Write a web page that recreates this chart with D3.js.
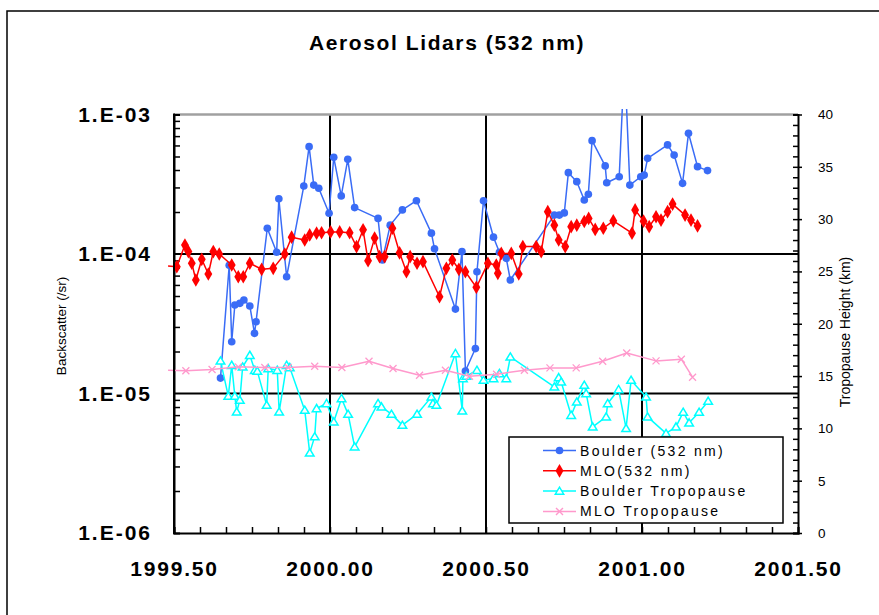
<!DOCTYPE html>
<html>
<head>
<meta charset="utf-8">
<script src="https://cdn.jsdelivr.net/npm/d3@7/dist/d3.min.js"></script>
<style>
  html, body { margin: 0; padding: 0; background: #fff; }
  svg { display: block; }
  text { font-family: "Liberation Sans", Arial, sans-serif; fill: #000; }
</style>
</head>
<body>
<svg id="chart" width="879" height="615"></svg>
<script>
// ---- Data ----
const xTickValues = [1999.5, 2000.0, 2000.5, 2001.0, 2001.5];
const xTickLabels = ["1999.50", "2000.00", "2000.50", "2001.00", "2001.50"];
const yTickValues = [1e-3, 1e-4, 1e-5, 1e-6];
const yTickLabels = ["1.E-03", "1.E-04", "1.E-05", "1.E-06"];
const y2TickValues = [0, 5, 10, 15, 20, 25, 30, 35, 40];

// Boulder lidar backscatter (/sr)
const boulderYear = [1999.649,1999.677,1999.685,1999.695,1999.711,1999.724,1999.743,1999.758,1999.763,1999.799,
  1999.829,1999.836,1999.861,1999.916,1999.933,1999.948,1999.964,1999.997,2000.012,2000.036,
  2000.057,2000.079,2000.154,2000.168,2000.193,2000.232,2000.277,2000.325,2000.335,2000.402,
  2000.423,2000.434,2000.466,2000.471,2000.492,2000.524,2000.543,2000.565,2000.578,2000.719,
  2000.735,2000.751,2000.764,2000.791,2000.815,2000.828,2000.840,2000.882,2000.887,2000.927,
  2000.944,2000.961,2000.996,2001.007,2001.018,2001.082,2001.103,2001.130,2001.149,2001.178,2001.210];
const boulderBsc = [1.29e-5,8.3e-5,2.35e-5,4.31e-5,4.43e-5,4.68e-5,4.24e-5,2.70e-5,3.27e-5,1.53e-4,
  1.03e-4,2.49e-4,6.87e-5,3.07e-4,5.88e-4,3.12e-4,2.96e-4,1.96e-4,4.93e-4,2.61e-4,
  4.77e-4,2.15e-4,1.80e-4,9.06e-5,1.61e-4,2.07e-4,2.41e-4,1.41e-4,1.09e-4,4.03e-5,
  1.04e-4,1.45e-5,2.10e-5,7.46e-5,2.41e-4,1.32e-4,1.03e-4,9.31e-5,6.51e-5,1.90e-4,
  1.90e-4,1.97e-4,3.83e-4,3.30e-4,2.44e-4,2.68e-4,6.49e-4,4.28e-4,3.24e-4,3.58e-4,
  2.5e-3,3.12e-4,3.58e-4,3.68e-4,4.85e-4,6.05e-4,5.12e-4,3.21e-4,7.33e-4,4.23e-4,3.96e-4];

// Mauna Loa lidar backscatter (/sr)
const mloYear = [1999.481,1999.509,1999.535,1999.546,1999.557,1999.570,1999.589,1999.610,1999.626,1999.645,
  1999.685,1999.706,1999.722,1999.743,1999.781,1999.818,1999.855,1999.877,1999.919,1999.935,
  1999.957,1999.973,2000.002,2000.031,2000.063,2000.085,2000.106,2000.122,2000.143,2000.159,
  2000.175,2000.200,2000.223,2000.245,2000.257,2000.279,2000.298,2000.351,2000.373,2000.392,
  2000.413,2000.434,2000.469,2000.506,2000.533,2000.538,2000.549,2000.581,2000.605,2000.618,
  2000.661,2000.677,2000.698,2000.719,2000.733,2000.754,2000.773,2000.791,2000.815,2000.829,
  2000.850,2000.876,2000.908,2000.968,2000.978,2001.005,2001.023,2001.045,2001.061,2001.082,
  2001.098,2001.138,2001.157,2001.178];
const mloBsc = [8.2e-5,8.11e-5,1.16e-4,1.04e-4,8.58e-5,6.51e-5,9.16e-5,7.19e-5,1.04e-4,1.0e-4,
  8.34e-5,6.87e-5,6.87e-5,8.58e-5,7.77e-5,7.89e-5,1.0e-4,1.32e-4,1.26e-4,1.37e-4,
  1.41e-4,1.42e-4,1.44e-4,1.44e-4,1.42e-4,1.13e-4,1.49e-4,8.95e-5,1.30e-4,9.57e-5,
  9.57e-5,1.53e-4,1.02e-4,7.46e-5,9.57e-5,8.58e-5,8.81e-5,4.94e-5,7.89e-5,9.06e-5,
  7.77e-5,7.46e-5,5.77e-5,8.58e-5,8.34e-5,7.27e-5,1.01e-4,1.01e-4,7.19e-5,1.13e-4,
  1.13e-4,1.04e-4,2.01e-4,1.61e-4,1.26e-4,1.13e-4,1.57e-4,1.61e-4,1.71e-4,1.80e-4,
  1.50e-4,1.53e-4,1.73e-4,1.41e-4,2.07e-4,1.72e-4,1.57e-4,1.85e-4,1.75e-4,2.01e-4,
  2.28e-4,1.90e-4,1.75e-4,1.59e-4];

// Boulder tropopause height (km)
const boulderTropYear = [1999.649,1999.674,1999.685,1999.695,1999.701,1999.711,1999.720,1999.743,1999.759,1999.767,
  1999.797,1999.802,1999.831,1999.837,1999.861,1999.871,1999.919,1999.935,1999.951,1999.957,
  1999.989,2000.012,2000.037,2000.058,2000.079,2000.154,2000.165,2000.197,2000.232,2000.279,
  2000.325,2000.330,2000.341,2000.402,2000.424,2000.426,2000.437,2000.471,2000.492,2000.524,
  2000.543,2000.565,2000.578,2000.719,2000.733,2000.741,2000.773,2000.791,2000.815,2000.821,
  2000.842,2000.885,2000.890,2000.925,2000.949,2000.965,2001.013,2001.018,2001.077,2001.109,
  2001.132,2001.151,2001.183,2001.212];
const boulderTropKm = [16.45,13.08,16.04,13.08,11.58,12.70,15.88,16.99,15.56,15.47,
  12.22,15.72,15.56,11.58,16.04,15.82,11.74,7.66,9.21,11.90,
  12.38,10.63,12.86,11.36,8.24,12.38,12.06,11.36,10.31,11.36,
  13.01,12.38,12.22,17.16,11.68,14.77,14.99,15.56,14.61,14.77,
  15.25,14.77,16.83,13.97,14.86,14.44,11.26,12.53,14.13,13.34,
  10.15,11.10,12.38,13.72,10.00,14.61,13.01,11.10,9.52,10.15,
  11.55,10.53,11.55,12.60];

// Mauna Loa tropopause height (km)
const mloTropYear = [1999.481,1999.538,1999.622,1999.706,1999.791,1999.866,1999.951,2000.038,2000.125,2000.202,
  2000.287,2000.370,2000.447,2000.534,2000.623,2000.705,2000.789,2000.874,2000.951,2001.045,
  2001.126,2001.162];
const mloTropKm = [15.56,15.51,15.63,15.88,15.82,15.82,15.94,15.82,16.42,15.72,
  15.08,15.56,14.99,15.18,15.56,15.78,15.78,16.42,17.21,16.45,
  16.61,14.89];

const seriesNames = ["Boulder (532 nm)", "MLO(532 nm)", "Boulder Tropopause", "MLO Tropopause"];

// ---- Layout ----
const svg = d3.select("#chart");
const plot = { left: 174, right: 798, top: 114.5, bottom: 533 };

const x = d3.scaleLinear().domain([1999.5, 2001.5]).range([plot.left, plot.right]);
const y = d3.scaleLog().domain([1e-6, 1e-3]).range([plot.bottom, plot.top]);
const y2 = d3.scaleLinear().domain([0, 40]).range([plot.bottom, plot.top]);

const FONT = '"Liberation Sans", Arial, sans-serif';

// outer chart frame
svg.append("rect").attr("x", 7).attr("y", 11).attr("width", 900).attr("height", 700)
  .attr("fill", "#fff").attr("stroke", "#000").attr("stroke-width", 1.5);

// title
svg.append("text").attr("x", 447).attr("y", 50).attr("text-anchor", "middle")
  .attr("font-size", 21).attr("font-weight", "bold").attr("letter-spacing", 1.6)
  .text("Aerosol Lidars (532 nm)");

// gridlines at major values
const grid = svg.append("g").attr("stroke", "#000").attr("stroke-width", 2);
[1e-4, 1e-5].forEach(v => grid.append("line")
  .attr("x1", plot.left).attr("x2", plot.right).attr("y1", y(v)).attr("y2", y(v)));
[2000.0, 2000.5, 2001.0].forEach(v => grid.append("line")
  .attr("x1", x(v)).attr("x2", x(v)).attr("y1", plot.top).attr("y2", plot.bottom));

// top frame edge (grey)
svg.append("line").attr("x1", plot.left).attr("x2", plot.right)
  .attr("y1", plot.top).attr("y2", plot.top).attr("stroke", "#a0a0a0").attr("stroke-width", 2.5);

// ---- Axes ----
function styleAxis(g) {
  g.selectAll(".domain").attr("stroke", "#000").attr("stroke-width", 2);
  g.selectAll(".tick line").attr("stroke", "#000").attr("stroke-width", 1.5);
}

// left log axis: minor ticks pointing inward
const minorLog = [];
for (let e = -6; e < -3; e++) for (let m = 2; m <= 9; m++) minorLog.push(m * Math.pow(10, e));
svg.append("g").attr("transform", `translate(${plot.left},0)`)
  .call(d3.axisRight(y).tickValues(minorLog).tickSize(6).tickFormat(""))
  .call(styleAxis);
// left labels
svg.append("g").attr("transform", `translate(${plot.left},0)`)
  .call(d3.axisLeft(y).tickValues(yTickValues).tickSize(0).tickPadding(22)
    .tickFormat((d, i) => yTickLabels[i]))
  .call(g => g.select(".domain").remove())
  .call(g => g.selectAll("text").attr("font-family", FONT).attr("font-size", 21)
    .attr("font-weight", "bold").attr("letter-spacing", 2).attr("fill", "#000"));

// bottom axis: monthly minor ticks inward
const monthTicks = d3.range(0, 25).map(i => 1999.5 + i / 12);
svg.append("g").attr("transform", `translate(0,${plot.bottom})`)
  .call(d3.axisTop(x).tickValues(monthTicks).tickSize(6).tickFormat(""))
  .call(styleAxis);
svg.append("g").attr("transform", `translate(0,${plot.bottom})`)
  .call(d3.axisBottom(x).tickValues(xTickValues).tickSize(0).tickPadding(28)
    .tickFormat((d, i) => xTickLabels[i]))
  .call(g => g.select(".domain").remove())
  .call(g => g.selectAll("text").attr("font-family", FONT).attr("font-size", 21)
    .attr("font-weight", "bold").attr("letter-spacing", 1.8).attr("fill", "#000"));

// right axis (tropopause height)
svg.append("g").attr("transform", `translate(${plot.right},0)`)
  .call(d3.axisLeft(y2).tickValues(d3.range(0, 41, 1)).tickSize(5).tickFormat(""))
  .call(styleAxis);
svg.append("g").attr("transform", `translate(${plot.right},0)`)
  .call(d3.axisRight(y2).tickValues(y2TickValues).tickSize(4).tickPadding(16))
  .call(g => g.select(".domain").remove())
  .call(g => g.selectAll(".tick line").attr("stroke", "#000").attr("stroke-width", 1.5))
  .call(g => g.selectAll("text").attr("font-family", FONT).attr("font-size", 13.5).attr("fill", "#000"));

// axis titles
svg.append("text").attr("transform", "translate(66,326) rotate(-90)")
  .attr("text-anchor", "middle").attr("font-size", 13.5).text("Backscatter (/sr)");
svg.append("text").attr("transform", "translate(850,332) rotate(-90)")
  .attr("text-anchor", "middle").attr("font-size", 14).text("Tropopause Height (km)");

// ---- Series ----
svg.append("defs").append("clipPath").attr("id", "clip")
  .append("rect").attr("x", 160).attr("y", 109).attr("width", 640).attr("height", 430);

const layer = svg.append("g").attr("clip-path", "url(#clip)");

const COLORS = { boulder: "#3a6cf6", mlo: "#ff0000", btrop: "#00ffff", mtrop: "#ff99cc" };

const circleSym = d3.symbol().type(d3.symbolCircle).size(46);
const diamondSym = d3.symbol().type(d3.symbolDiamond).size(54);
const triPath = "M0,-4L4.3,3.2L-4.3,3.2Z";
const crossPath = "M-3.5,-3.5L3.5,3.5M-3.5,3.5L3.5,-3.5";

function drawSeries(years, values, yScale, color, marker, markerStyle) {
  const pts = years.map((t, i) => ({ t, v: values[i] }));
  layer.append("path").datum(pts)
    .attr("fill", "none").attr("stroke", color).attr("stroke-width", 1.5)
    .attr("stroke-linejoin", "round")
    .attr("d", d3.line().x(d => x(d.t)).y(d => yScale(d.v)));
  const visible = pts.filter(d => d.t >= 1999.5 && yScale(d.v) >= plot.top);
  layer.append("g").selectAll("path").data(visible).join("path")
    .attr("transform", d => `translate(${x(d.t)},${yScale(d.v)})`)
    .attr("d", marker)
    .call(markerStyle);
}

drawSeries(boulderYear, boulderBsc, y, COLORS.boulder, circleSym,
  s => s.attr("fill", COLORS.boulder));
drawSeries(mloYear, mloBsc, y, COLORS.mlo, diamondSym,
  s => s.attr("fill", COLORS.mlo));
drawSeries(boulderTropYear, boulderTropKm, y2, COLORS.btrop, triPath,
  s => s.attr("fill", "#fff").attr("stroke", COLORS.btrop).attr("stroke-width", 1.5));
drawSeries(mloTropYear, mloTropKm, y2, COLORS.mtrop, crossPath,
  s => s.attr("fill", "none").attr("stroke", COLORS.mtrop).attr("stroke-width", 1.3));

// left axis line drawn over data
svg.append("line").attr("x1", plot.left).attr("x2", plot.left)
  .attr("y1", plot.top - 1).attr("y2", plot.bottom + 1).attr("stroke", "#000").attr("stroke-width", 2);

// ---- Legend ----
const legend = svg.append("g");
legend.append("rect").attr("x", 509).attr("y", 437).attr("width", 274).attr("height", 86)
  .attr("fill", "#fff").attr("stroke", "#000").attr("stroke-width", 1.5);
const legendMarkers = [
  { color: COLORS.boulder, d: circleSym(), fill: COLORS.boulder, stroke: "none" },
  { color: COLORS.mlo, d: diamondSym(), fill: COLORS.mlo, stroke: "none" },
  { color: COLORS.btrop, d: triPath, fill: "#fff", stroke: COLORS.btrop },
  { color: COLORS.mtrop, d: crossPath, fill: "none", stroke: COLORS.mtrop }
];
seriesNames.forEach((name, i) => {
  const cy = 450.5 + i * 20.3;
  const m = legendMarkers[i];
  legend.append("line").attr("x1", 543).attr("x2", 576).attr("y1", cy).attr("y2", cy)
    .attr("stroke", m.color).attr("stroke-width", 1.5);
  legend.append("path").attr("transform", `translate(559.5,${cy})`).attr("d", m.d)
    .attr("fill", m.fill).attr("stroke", m.stroke).attr("stroke-width", 1.4);
  legend.append("text").attr("x", 580).attr("y", cy + 5).attr("font-size", 14)
    .attr("letter-spacing", 2.3).text(name);
});
</script>
</body>
</html>
